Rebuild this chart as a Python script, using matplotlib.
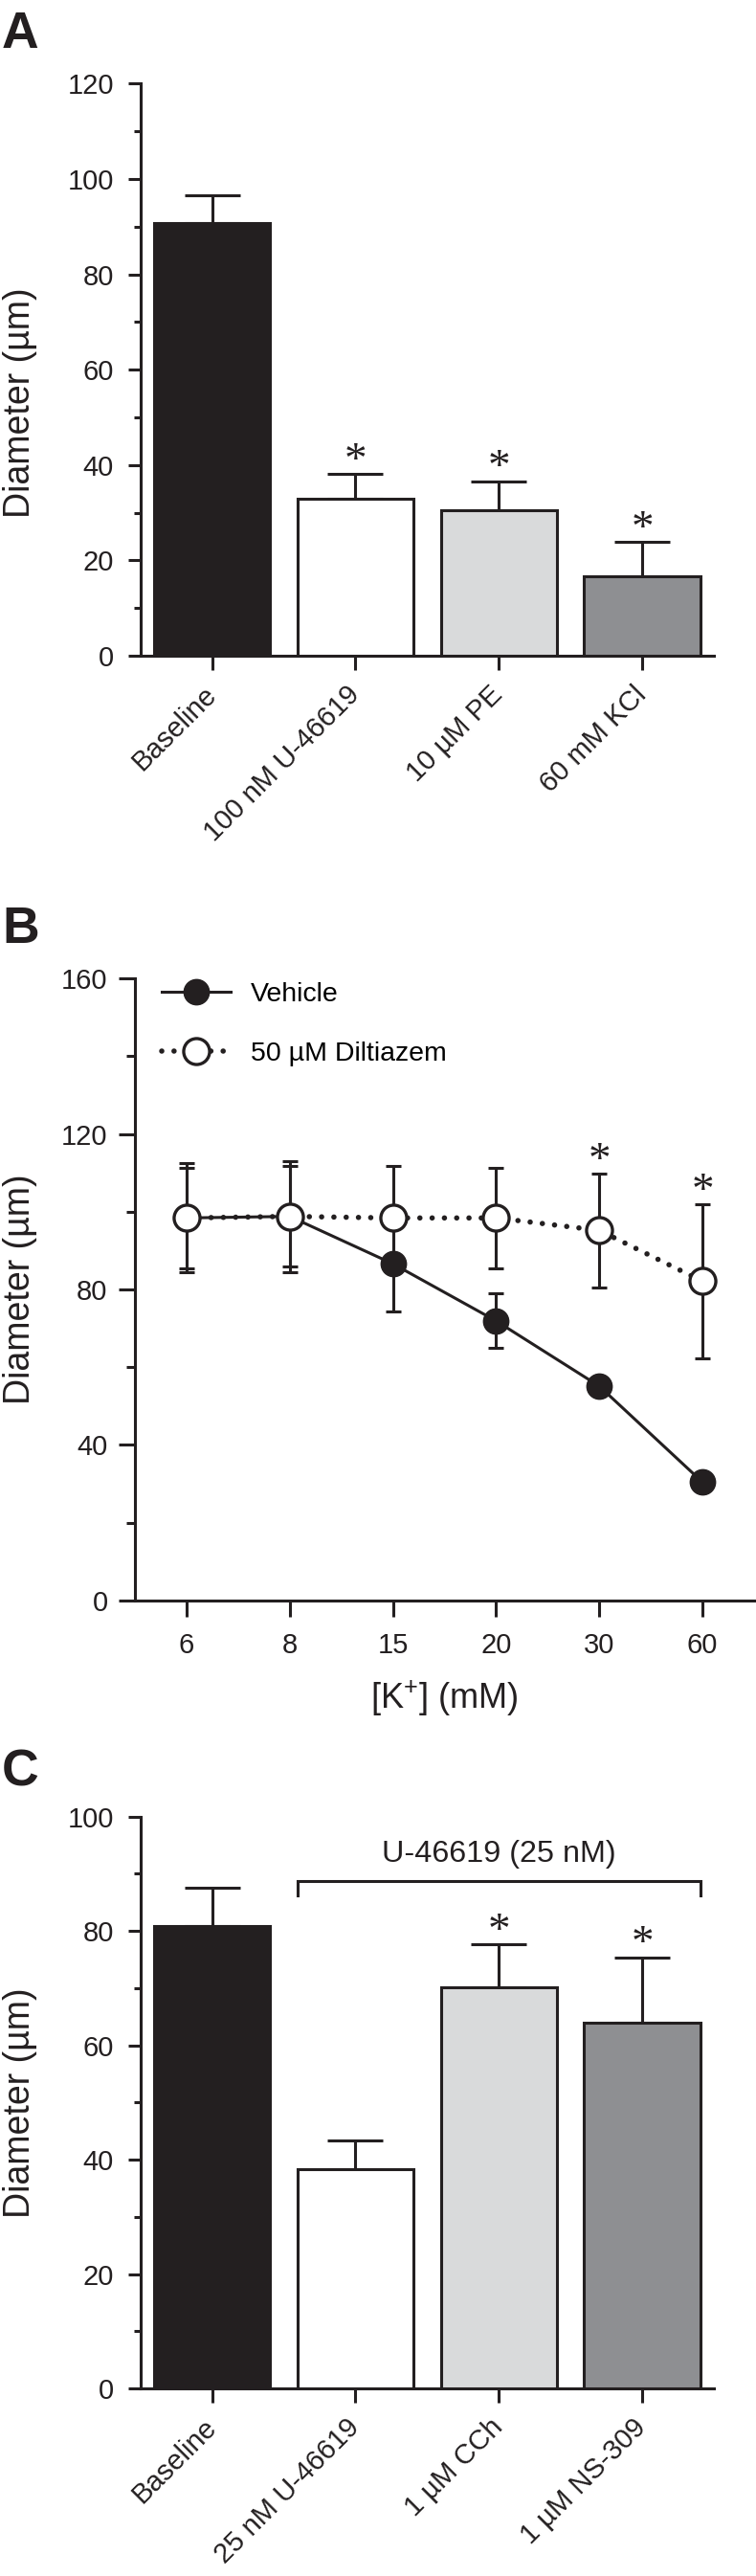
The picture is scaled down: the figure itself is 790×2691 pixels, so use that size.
import matplotlib
matplotlib.use('Agg')
import matplotlib.pyplot as plt
from matplotlib.lines import Line2D
import numpy as np

plt.rcParams['font.family'] = ['Liberation Sans', 'DejaVu Sans']
plt.rcParams['mathtext.fontset'] = 'custom'
plt.rcParams['mathtext.rm'] = 'Liberation Sans'
plt.rcParams['mathtext.it'] = 'Liberation Sans:italic'
plt.rcParams['mathtext.bf'] = 'Liberation Sans:bold'

ink = '#231f20'

# Panel A - agonist constriction
a_labels = ['Baseline', '100 nM U-46619', '10 µM PE', '60 mM KCl']
a_means = [90.7, 33.0, 30.6, 16.7]
a_sem = [5.9, 5.1, 6.0, 7.1]
a_sig = [False, True, True, True]

# Panel B - K+ concentration response
k_labels = ['6', '8', '15', '20', '30', '60']
veh_mean = [98.4, 98.8, 86.6, 71.9, 55.1, 30.4]
veh_sem = [14.0, 14.3, 12.2, 7.0, 2.0, 2.0]
dil_mean = [98.4, 98.8, 98.4, 98.4, 95.2, 82.1]
dil_sem = [13.0, 13.0, 13.3, 13.0, 14.6, 19.8]
dil_sig = [False, False, False, False, True, True]

# Panel C - dilators after U-46619
c_labels = ['Baseline', '25 nM U-46619', '1 µM CCh', '1 µM NS-309']
c_means = [80.9, 38.3, 70.1, 63.9]
c_sem = [6.6, 5.1, 7.6, 11.5]
c_sig = [False, False, True, True]

bar_colors = [ink, 'white', '#d9dadb', '#8e8f92']

W, H = 790, 2691
fig = plt.figure(figsize=(W / 100, H / 100), dpi=100)


def fig_rect(left, right, top, bottom):
    return [left / W, 1 - bottom / H, (right - left) / W, (bottom - top) / H]


def style_axes(ax):
    for s in ['top', 'right']:
        ax.spines[s].set_visible(False)
    for s in ['left', 'bottom']:
        ax.spines[s].set_linewidth(2.2)
        ax.spines[s].set_color(ink)
    ax.tick_params(which='both', direction='out', color=ink, width=2.2, labelcolor=ink)
    ax.tick_params(axis='y', which='major', length=9.5, pad=10.5, labelsize=21)
    ax.tick_params(axis='y', which='minor', length=5)


def star(ax, x, y):
    ax.annotate('*', (x, y), xytext=(0, 1), textcoords='offset points',
                ha='center', va='baseline', fontsize=34, family='Liberation Serif', color=ink)


def bar_panel(ax, labels, means, sem, sig, ymax):
    x = np.arange(len(labels))
    ax.errorbar(x, means, yerr=[np.zeros(len(x)), sem], fmt='none', ecolor=ink,
                elinewidth=2.2, capsize=21, capthick=2.2, zorder=2)
    ax.bar(x, means, width=0.81, color=bar_colors, edgecolor=ink, linewidth=2.2, zorder=3)
    for xi, m, s, st in zip(x, means, sem, sig):
        if st:
            star(ax, xi, m + s)
    ax.set_xlim(-0.5, len(labels) - 0.5)
    ax.set_ylim(0, ymax)
    ax.set_yticks(np.arange(0, ymax + 1, 20))
    ax.set_yticks(np.arange(10, ymax, 20), minor=True)
    ax.set_xticks(x)
    ax.set_xticklabels(labels, rotation=45, ha='right', va='center', rotation_mode='anchor', fontsize=21)
    style_axes(ax)
    ax.tick_params(axis='x', length=11, pad=15)
    ax.set_ylabel('Diameter (µm)', fontsize=27, va='center', color=ink)
    return x


# ---- Panel A
axA = fig.add_axes(fig_rect(146.6, 746, 87.3, 685))
bar_panel(axA, a_labels, a_means, a_sem, a_sig, 120)
axA.yaxis.set_label_coords(-0.2095, 0.443)

# ---- Panel B
axB = fig.add_axes(fig_rect(141, 788, 1022.3, 1671.7))
xk = np.arange(len(k_labels))
axB.errorbar(xk, dil_mean, yerr=dil_sem, fmt='none', ecolor=ink, elinewidth=2.2,
             capsize=5.8, capthick=2.2, zorder=1)
axB.errorbar(xk, veh_mean, yerr=veh_sem, fmt='none', ecolor=ink, elinewidth=2.2,
             capsize=5.8, capthick=2.2, zorder=1)
axB.plot(xk, veh_mean, '-', color=ink, lw=2.2, zorder=2)
axB.plot(xk, veh_mean, 'o', color=ink, ms=19, mec=ink, zorder=3)
axB.plot(xk, dil_mean, color=ink, lw=4.0, ls=(0, (0.01, 2.3)), dash_capstyle='round', zorder=3)
axB.plot(xk, dil_mean, 'o', mfc='white', mec=ink, ms=19.5, mew=2.4, zorder=4)
for xi, m, s, st in zip(xk, dil_mean, dil_sem, dil_sig):
    if st:
        star(axB, xi, m + s)
axB.set_xlim(-0.5, 5.5)
axB.set_ylim(0, 160)
axB.set_yticks(np.arange(0, 161, 40))
axB.set_yticks(np.arange(20, 160, 40), minor=True)
axB.set_xticks(xk)
axB.set_xticklabels(k_labels, fontsize=21)
style_axes(axB)
axB.tick_params(axis='y', which='major', length=12, pad=8.5)
axB.tick_params(axis='y', which='minor', length=6.5)
axB.tick_params(axis='x', length=12, pad=12)
axB.set_ylabel('Diameter (µm)', fontsize=27, va='center', color=ink)
axB.yaxis.set_label_coords(-0.1855, 0.5)
axB.set_xlabel('[K$^{+}$] (mM)', fontsize=26, va='center', color=ink)
axB.xaxis.set_label_coords(0.5, -0.1575)

h_veh = Line2D([], [], color=ink, lw=2.2, marker='o', ms=19, mfc=ink, mec=ink)
h_dil = Line2D([], [], color=ink, lw=4.0, ls=(0, (0.01, 2.3)), dash_capstyle='round',
               marker='o', ms=19.5, mfc='white', mec=ink, mew=2.4)
axB.legend([h_veh, h_dil], ['Vehicle', '50 µM Diltiazem'], loc='upper left',
           bbox_to_anchor=(0.022, 1.016), frameon=False, fontsize=20.5,
           handlelength=2.5, handletextpad=0.75, labelspacing=1.25, borderpad=0)

# ---- Panel C
axC = fig.add_axes(fig_rect(146.6, 746, 1897.7, 2495.2))
xc = bar_panel(axC, c_labels, c_means, c_sem, c_sig, 100)
axC.yaxis.set_label_coords(-0.2095, 0.5)
half = 0.81 / 2
axC.plot([xc[1] - half, xc[1] - half, xc[3] + half, xc[3] + half], [86.3, 88.7, 88.7, 86.3],
         color=ink, lw=2.2, solid_joinstyle='miter', clip_on=False)
axC.text((xc[1] + xc[3]) / 2, 92, 'U-46619 (25 nM)', ha='center', va='baseline', fontsize=23.3, color=ink)

# panel letters
for letter, base in [('A', 50), ('B', 985), ('C', 1866)]:
    fig.text(2 / W, 1 - base / H, letter, fontsize=38.5, fontweight='bold', ha='left', va='baseline', color=ink)

fig.savefig('out.png', dpi=100)
